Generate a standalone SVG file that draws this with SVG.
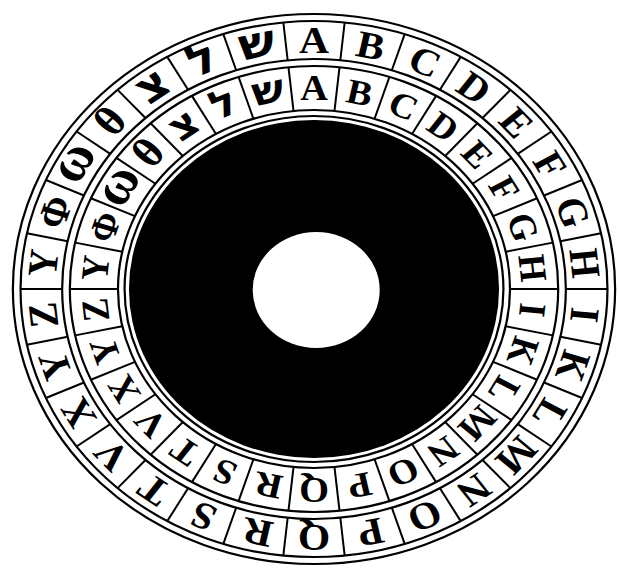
<svg xmlns="http://www.w3.org/2000/svg" width="619" height="569" viewBox="0 0 619 569">
<style>
.ring{fill:none;stroke:#000;stroke-width:2.2;vector-effect:non-scaling-stroke}
.dv{stroke:#000;stroke-width:2;vector-effect:non-scaling-stroke}
.o{font-family:"Liberation Serif","DejaVu Serif",serif;font-size:38px;font-weight:bold;text-anchor:middle;fill:#000}
.i{font-family:"Liberation Serif","DejaVu Serif",serif;font-size:35px;font-weight:bold;text-anchor:middle;fill:#000}
.h{font-family:"DejaVu Sans","Liberation Sans",sans-serif;font-weight:bold}
.o.h{font-size:44px}
.i.h{font-size:39px}
.w{font-size:52px}
.t{font-size:42px}
</style>
<defs>
<line id="dvo" class="dv" x1="0" y1="-268" x2="0" y2="-230"/>
<line id="dvi" class="dv" x1="0" y1="-223" x2="0" y2="-179"/>
</defs>
<rect width="619" height="569" fill="#fff"/>
<g transform="translate(314,289) scale(1.095,1)">
<g id="disk">
<circle class="ring" r="275"/>
<circle class="ring" r="268"/>
<circle class="ring" r="230"/>
<circle class="ring" r="223"/>
<circle class="ring" r="179"/>
<circle class="ring" r="173"/>
<circle r="169" fill="#000"/>
<circle cx="2" cy="1" r="58" fill="#fff"/>
</g>
<g id="connectors">
<use href="#dvo" transform="rotate(6)"/><use href="#dvo" transform="rotate(18)"/><use href="#dvo" transform="rotate(30)"/><use href="#dvo" transform="rotate(42)"/><use href="#dvo" transform="rotate(54)"/><use href="#dvo" transform="rotate(66)"/><use href="#dvo" transform="rotate(78)"/><use href="#dvo" transform="rotate(90)"/><use href="#dvo" transform="rotate(102)"/><use href="#dvo" transform="rotate(114)"/><use href="#dvo" transform="rotate(126)"/><use href="#dvo" transform="rotate(138)"/><use href="#dvo" transform="rotate(150)"/><use href="#dvo" transform="rotate(162)"/><use href="#dvo" transform="rotate(174)"/><use href="#dvo" transform="rotate(186)"/><use href="#dvo" transform="rotate(198)"/><use href="#dvo" transform="rotate(210)"/><use href="#dvo" transform="rotate(222)"/><use href="#dvo" transform="rotate(234)"/><use href="#dvo" transform="rotate(246)"/><use href="#dvo" transform="rotate(258)"/><use href="#dvo" transform="rotate(270)"/><use href="#dvo" transform="rotate(282)"/><use href="#dvo" transform="rotate(294)"/><use href="#dvo" transform="rotate(306)"/><use href="#dvo" transform="rotate(318)"/><use href="#dvo" transform="rotate(330)"/><use href="#dvo" transform="rotate(342)"/><use href="#dvo" transform="rotate(354)"/>
<use href="#dvi" transform="rotate(6)"/><use href="#dvi" transform="rotate(18)"/><use href="#dvi" transform="rotate(30)"/><use href="#dvi" transform="rotate(42)"/><use href="#dvi" transform="rotate(54)"/><use href="#dvi" transform="rotate(66)"/><use href="#dvi" transform="rotate(78)"/><use href="#dvi" transform="rotate(90)"/><use href="#dvi" transform="rotate(102)"/><use href="#dvi" transform="rotate(114)"/><use href="#dvi" transform="rotate(126)"/><use href="#dvi" transform="rotate(138)"/><use href="#dvi" transform="rotate(150)"/><use href="#dvi" transform="rotate(162)"/><use href="#dvi" transform="rotate(174)"/><use href="#dvi" transform="rotate(186)"/><use href="#dvi" transform="rotate(198)"/><use href="#dvi" transform="rotate(210)"/><use href="#dvi" transform="rotate(222)"/><use href="#dvi" transform="rotate(234)"/><use href="#dvi" transform="rotate(246)"/><use href="#dvi" transform="rotate(258)"/><use href="#dvi" transform="rotate(270)"/><use href="#dvi" transform="rotate(282)"/><use href="#dvi" transform="rotate(294)"/><use href="#dvi" transform="rotate(306)"/><use href="#dvi" transform="rotate(318)"/><use href="#dvi" transform="rotate(330)"/><use href="#dvi" transform="rotate(342)"/><use href="#dvi" transform="rotate(354)"/>
</g>
<g id="outer-ring">
<text class="o" y="-236" transform="rotate(0)">A</text>
<text class="o" y="-236" transform="rotate(12)">B</text>
<text class="o" y="-236" transform="rotate(24)">C</text>
<text class="o" y="-236" transform="rotate(36)">D</text>
<text class="o" y="-236" transform="rotate(48)">E</text>
<text class="o" y="-236" transform="rotate(60)">F</text>
<text class="o" y="-236" transform="rotate(72)">G</text>
<text class="o" y="-236" transform="rotate(84)">H</text>
<text class="o" y="-236" transform="rotate(96)">I</text>
<text class="o" y="-236" transform="rotate(108)">K</text>
<text class="o" y="-236" transform="rotate(120)">L</text>
<text class="o" y="-236" transform="rotate(132)">M</text>
<text class="o" y="-236" transform="rotate(144)">N</text>
<text class="o" y="-236" transform="rotate(156)">O</text>
<text class="o" y="-236" transform="rotate(168)">P</text>
<text class="o" y="-236" transform="rotate(180)">Q</text>
<text class="o" y="-236" transform="rotate(192)">R</text>
<text class="o" y="-236" transform="rotate(204)">S</text>
<text class="o" y="-236" transform="rotate(216)">T</text>
<text class="o" y="-236" transform="rotate(228)">V</text>
<text class="o" y="-236" transform="rotate(240)">X</text>
<text class="o" y="-236" transform="rotate(252)">Y</text>
<text class="o" y="-236" transform="rotate(264)">Z</text>
<text class="o" y="-236" transform="rotate(276)">Υ</text>
<text class="o" y="-236" transform="rotate(288)">Φ</text>
<text class="o w" y="-239" transform="rotate(300)">ω</text>
<text class="o t" y="-237" transform="rotate(312)">θ</text>
<text class="o h" y="-237" transform="rotate(324)">צ</text>
<text class="o h" y="-237" transform="rotate(336)">ל</text>
<text class="o h" y="-237" transform="rotate(348)">ש</text>
</g>
<g id="inner-ring">
<text class="i" y="-189" transform="rotate(0)">A</text>
<text class="i" y="-189" transform="rotate(12)">B</text>
<text class="i" y="-189" transform="rotate(24)">C</text>
<text class="i" y="-189" transform="rotate(36)">D</text>
<text class="i" y="-189" transform="rotate(48)">E</text>
<text class="i" y="-189" transform="rotate(60)">F</text>
<text class="i" y="-189" transform="rotate(72)">G</text>
<text class="i" y="-189" transform="rotate(84)">H</text>
<text class="i" y="-189" transform="rotate(96)">I</text>
<text class="i" y="-189" transform="rotate(108)">K</text>
<text class="i" y="-189" transform="rotate(120)">L</text>
<text class="i" y="-189" transform="rotate(132)">M</text>
<text class="i" y="-189" transform="rotate(144)">N</text>
<text class="i" y="-189" transform="rotate(156)">O</text>
<text class="i" y="-189" transform="rotate(168)">P</text>
<text class="i" y="-189" transform="rotate(180)">Q</text>
<text class="i" y="-189" transform="rotate(192)">R</text>
<text class="i" y="-189" transform="rotate(204)">S</text>
<text class="i" y="-189" transform="rotate(216)">T</text>
<text class="i" y="-189" transform="rotate(228)">V</text>
<text class="i" y="-189" transform="rotate(240)">X</text>
<text class="i" y="-189" transform="rotate(252)">Y</text>
<text class="i" y="-189" transform="rotate(264)">Z</text>
<text class="i" y="-189" transform="rotate(276)">Υ</text>
<text class="i" y="-189" transform="rotate(288)">Φ</text>
<text class="i w" y="-192" transform="rotate(300)">ω</text>
<text class="i t" y="-190" transform="rotate(312)">θ</text>
<text class="i h" y="-190" transform="rotate(324)">צ</text>
<text class="i h" y="-190" transform="rotate(336)">ל</text>
<text class="i h" y="-190" transform="rotate(348)">ש</text>
</g>
</g>
</svg>
